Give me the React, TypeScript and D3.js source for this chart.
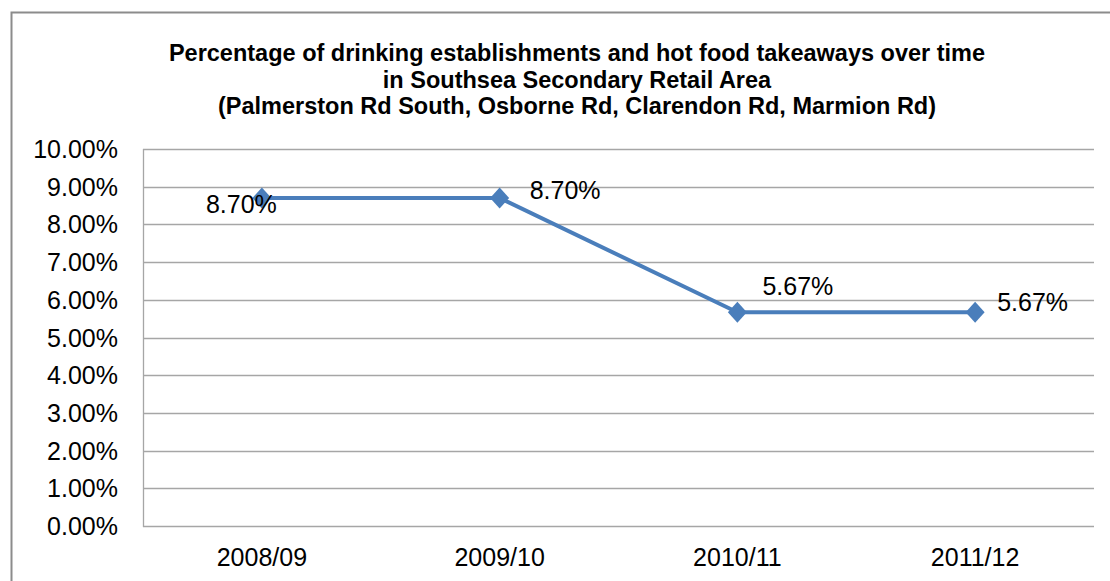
import React from "react";
import * as d3 from "d3";

const categories = ["2008/09", "2009/10", "2010/11", "2011/12"];
const values = [0.087, 0.087, 0.0567, 0.0567];
const yTicks = [0, 0.01, 0.02, 0.03, 0.04, 0.05, 0.06, 0.07, 0.08, 0.09, 0.1];
const titleLines = [
  "Percentage of drinking establishments and hot food takeaways over time",
  "in Southsea Secondary Retail Area",
  "(Palmerston Rd South, Osborne Rd, Clarendon Rd, Marmion Rd)",
];
// manual label placement (left edge dx, baseline dy) relative to point
const labelOffsets = [
  [-56, 15],
  [30, 1],
  [25, -17],
  [22, -1],
];

const W = 1110;
const H = 581;
const plot = { left: 143, right: 1094, top: 149, bottom: 526 };
const font = "'Liberation Sans', Arial, sans-serif";

export default function App() {
  const x = d3
    .scaleBand<string>()
    .domain(categories)
    .range([plot.left, plot.right]);
  const y = d3.scaleLinear().domain([0, 0.1]).range([plot.bottom, plot.top]);
  const fmt = d3.format(".2%");
  const pts = values.map((v, i) => [x(categories[i])! + x.bandwidth() / 2, y(v)] as [number, number]);
  const line = d3.line()(pts) || "";
  const dia = 9.5;

  return (
    <svg
      width={W}
      height={H}
      style={{ position: "absolute", left: 0, top: 0, background: "#fff" }}
      fontFamily={font}
    >
      <rect x={0} y={0} width={W} height={H} fill="#fff" />
      {/* outer chart border */}
      <path d={`M11.5,${H + 5} L11.5,12.5 L${W + 5},12.5`} fill="none" stroke="#8c8c8c" strokeWidth={2} />
      {/* title */}
      {titleLines.map((t, i) => (
        <text
          key={i}
          x={577}
          y={61 + i * 26.5}
          textAnchor="middle"
          fontWeight="bold"
          fontSize={23.5}
          letterSpacing={0}
          fill="#000"
        >
          {t}
        </text>
      ))}
      {/* gridlines */}
      {yTicks.map((t, i) => (
        <line
          key={i}
          x1={plot.left}
          x2={plot.right}
          y1={Math.round(y(t)) + 0.5}
          y2={Math.round(y(t)) + 0.5}
          stroke="#a6a6a6"
          strokeWidth={1.3}
        />
      ))}
      <line x1={plot.left + 0.5} x2={plot.left + 0.5} y1={plot.top} y2={plot.bottom + 1} stroke="#a6a6a6" strokeWidth={1.3} />
      {/* y tick labels */}
      {yTicks.map((t, i) => (
        <text key={i} x={118} y={y(t) + 9} textAnchor="end" fontSize={25} fill="#000">
          {fmt(t)}
        </text>
      ))}
      {/* x labels */}
      {categories.map((c) => (
        <text key={c} x={x(c)! + x.bandwidth() / 2} y={566} textAnchor="middle" fontSize={25} fill="#000">
          {c}
        </text>
      ))}
      {/* line */}
      <path d={line} fill="none" stroke="#4a7ebb" strokeWidth={4} strokeLinejoin="round" />
      {pts.map(([px, py], i) => (
        <path
          key={i}
          d={`M${px},${py - dia - 1} L${px + dia},${py} L${px},${py + dia + 1} L${px - dia},${py} Z`}
          fill="#4a7ebb"
        />
      ))}
      {/* data labels */}
      {pts.map(([px, py], i) => (
        <text key={i} x={px + labelOffsets[i][0]} y={py + labelOffsets[i][1]} fontSize={25} fill="#000">
          {fmt(values[i])}
        </text>
      ))}
    </svg>
  );
}
